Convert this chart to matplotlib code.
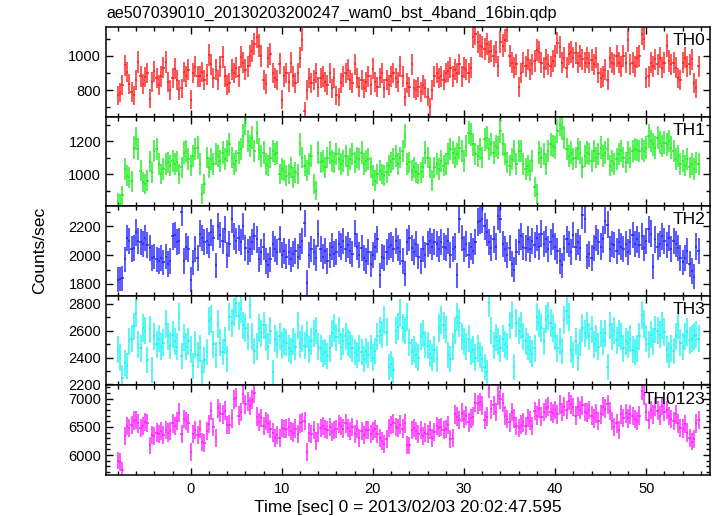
import numpy as np
import matplotlib
matplotlib.use("Agg")
import matplotlib.pyplot as plt
from matplotlib.ticker import MultipleLocator

plt.rcParams['font.family'] = ['Liberation Sans', 'DejaVu Sans']

title = "ae507039010_20130203200247_wam0_bst_4band_16bin.qdp"
xlabel = "Time [sec] 0 = 2013/02/03 20:02:47.595"
ylabel = "Counts/sec"
t_start = -8.0
bin_width = 0.25

th0 = [
    770, 785, 830, 945, 905, 835, 790, 770, 860, 965, 880, 835, 875, 900, 750, 850,
    910, 870, 830, 880, 930, 965, 850, 800, 870, 925, 860, 800, 810, 905, 880, 920,
    745, 900, 935, 880, 880, 905, 860, 890, 1005, 950, 870, 920, 860, 935, 995, 880,
    830, 840, 920, 900, 930, 880, 995, 960, 920, 940, 1000, 1030, 1070, 1110, 1060, 1000,
    860, 835, 990, 1010, 900, 870, 860, 955, 745, 880, 900, 845, 960, 880, 840, 900,
    990, 1095, 680, 800, 870, 840, 860, 900, 820, 870, 880, 850, 830, 900, 810, 870,
    770, 760, 840, 880, 900, 920, 860, 840, 950, 870, 820, 860, 810, 850, 880, 830,
    925, 850, 820, 870, 900, 810, 860, 830, 880, 900, 870, 850, 940, 880, 760, 840,
    820, 950, 810, 800, 820, 790, 830, 810, 760, 700, 800, 880, 900, 870, 880, 860,
    900, 910, 930, 880, 920, 900, 950, 880, 930, 920, 900, 930, 1110, 1130, 1080, 1060,
    1050, 1040, 1070, 1020, 1030, 1000, 1020, 940, 1080, 1060, 1090, 1150, 1000, 960, 930, 950,
    820, 900, 960, 940, 980, 920, 950, 970, 1035, 1020, 960, 930, 980, 950, 940, 970,
    1000, 1075, 1050, 960, 990, 930, 1010, 1020, 990, 1015, 960, 1000, 980, 960, 990, 960,
    975, 950, 990, 900, 870, 880, 920, 860, 990, 960, 950, 1000, 960, 940, 1000, 960,
    1090, 950, 960, 940, 990, 1000, 1130, 1100, 870, 880, 960, 940, 980, 950, 990, 930,
    960, 1060, 970, 950, 960, 930, 870, 860, 960, 990, 940, 950, 980, 840, 810, 940,
]

th1 = [
    830, 820, 870, 1030, 990, 980, 955, 1160, 1215, 1150, 1020, 950, 940, 960, 1075, 1010,
    1140, 1150, 1060, 1000, 1030, 1060, 1070, 1050, 1080, 1060, 1075, 1000, 1040, 1130, 1140, 1090,
    1050, 1110, 1150, 1160, 1060, 880, 940, 1100, 1040, 1090, 1060, 1120, 1110, 1080, 1130, 1090,
    1140, 1180, 1100, 1060, 1080, 1130, 1150, 1230, 1310, 1200, 1170, 1220, 1140, 1250, 1150, 1110,
    1130, 1060, 1050, 1100, 1140, 1120, 1130, 1000, 1030, 1020, 990, 1000, 1040, 980, 1010, 1000,
    1180, 1100, 1050, 1020, 1060, 1110, 940, 900, 1130, 1070, 1080, 1040, 1100, 1130, 1080, 1070,
    1120, 1090, 1060, 1080, 1110, 1050, 1090, 1120, 1070, 1100, 1090, 1130, 1060, 1080, 1090, 1040,
    990, 960, 1000, 1020, 1000, 990, 1010, 1050, 1070, 1090, 1110, 1060, 1100, 1140, 1230, 1060,
    1070, 1020, 1040, 1010, 1000, 1010, 1040, 1130, 1100, 1040, 960, 1040, 1060, 1030, 1080, 1050,
    1060, 1120, 1150, 1130, 1100, 1120, 1160, 1140, 1080, 1170, 1250, 1240, 1180, 1120, 1110, 1150,
    1100, 1210, 1220, 1150, 1180, 1130, 1170, 1160, 1260, 1180, 1120, 1070, 1050, 1090, 1140, 1060,
    1140, 1140, 1060, 1030, 1050, 1020, 1080, 920, 880, 1130, 1100, 1120, 1060, 1140, 1180, 1170,
    1160, 1260, 1300, 1280, 1220, 1150, 1110, 1130, 1090, 1100, 1150, 1130, 1040, 1110, 1130, 1120,
    1080, 1140, 1100, 1120, 1160, 1110, 1130, 1150, 1050, 1080, 1060, 1090, 1120, 1140, 1100, 1070,
    1130, 1100, 1140, 1150, 1145, 1140, 1150, 1140, 1160, 1230, 1200, 1180, 1160, 1220, 1190, 1170,
    1190, 1180, 1200, 1160, 1140, 1090, 1110, 1060, 1080, 1050, 1090, 1040, 1060, 1030, 1070, 1060,
]

th2 = [
    1830, 1835, 1840, 1970, 2120, 2100, 2040, 2050, 2160, 2100, 2090, 2080, 2120, 2070, 2050, 1980,
    1990, 1970, 1960, 1980, 1950, 1990, 1940, 1960, 2130, 2140, 2090, 2100, 2300, 1960, 2060, 2040,
    1830, 1950, 2040, 1980, 2150, 2120, 2090, 2100, 2070, 2160, 2120, 1930, 2200, 2140, 2100, 2180,
    2000, 2080, 2250, 2130, 2100, 2120, 2090, 2200, 2050, 2020, 2040, 2090, 2130, 2110, 1970, 2020,
    2060, 1960, 1930, 1970, 2080, 2040, 2020, 2110, 2000, 2030, 1990, 2020, 1970, 2010, 2030, 1990,
    2060, 2100, 2220, 1810, 2000, 2040, 2020, 1980, 2150, 2040, 1990, 2030, 1960, 2000, 2060, 2010,
    2020, 2080, 2060, 2100, 2040, 2070, 2030, 2010, 2150, 2060, 2000, 2050, 1980, 1960, 2020, 1940,
    2000, 2060, 2110, 1860, 1990, 1980, 2020, 2060, 2070, 2040, 2100, 2050, 2020, 1960, 1870, 2090,
    2120, 2050, 2020, 2080, 1990, 1960, 2040, 2000, 2080, 2100, 2060, 2090, 2080, 2040, 2090, 2060,
    2050, 2100, 2000, 2040, 2060, 1860, 2250, 2120, 2040, 2080, 2000, 2060, 2030, 2090, 2230, 2240,
    2250, 2200, 2160, 2090, 2050, 2110, 2060, 2270, 2250, 2080, 2040, 2000, 2050, 1940, 1900, 2020,
    2090, 2130, 2060, 2050, 2110, 2040, 2100, 2070, 2120, 2060, 2150, 2080, 2110, 2040, 2090, 2130,
    2060, 2030, 1960, 1930, 2050, 2110, 2080, 2020, 2140, 2060, 2090, 2050, 2280, 2250, 1990, 2010,
    1980, 2050, 2120, 2090, 2060, 2110, 2240, 2210, 2040, 2080, 2070, 2030, 2090, 2060, 2040, 2080,
    2020, 2090, 2140, 2080, 2110, 2070, 2130, 2050, 2100, 2180, 2150, 1920, 2110, 2060, 2080, 2130,
    2100, 2070, 2120, 2040, 2100, 2080, 2050, 1980, 1950, 1980, 2030, 1940, 1890, 1850, 2060, 2030,
]

th3 = [
    2460, 2400, 2250, 2360, 2340, 2520, 2540, 2630, 2730, 2500, 2470, 2620, 2600, 2380, 2610, 2310,
    2560, 2500, 2540, 2480, 2510, 2650, 2560, 2490, 2570, 2520, 2480, 2700, 2410, 2550, 2480, 2520,
    2460, 2340, 2500, 2420, 2470, 2290, 2380, 2440, 2670, 2690, 2500, 2420, 2650, 2510, 2440, 2530,
    2390, 2700, 2660, 2740, 2810, 2710, 2760, 2640, 2620, 2560, 2790, 2560, 2450, 2480, 2620, 2580,
    2640, 2550, 2480, 2600, 2290, 2540, 2500, 2560, 2490, 2520, 2510, 2470, 2450, 2520, 2480, 2640,
    2500, 2540, 2490, 2570, 2460, 2520, 2580, 2600, 2480, 2470, 2430, 2440, 2410, 2470, 2580, 2620,
    2550, 2600, 2480, 2520, 2560, 2510, 2500, 2470, 2440, 2420, 2470, 2440, 2390, 2450, 2420, 2470,
    2400, 2450, 2560, 2600, 2570, 2680, 2590, 2330, 2350, 2310, 2600, 2630, 2730, 2620, 2600, 2700,
    2510, 2440, 2460, 2420, 2400, 2560, 2580, 2500, 2490, 2430, 2400, 2460, 2390, 2620, 2680, 2640,
    2610, 2420, 2390, 2480, 2600, 2700, 2660, 2560, 2520, 2480, 2540, 2440, 2460, 2400, 2470, 2420,
    2390, 2330, 2290, 2810, 2600, 2490, 2550, 2520, 2470, 2540, 2500, 2480, 2640, 2720, 2330, 2660,
    2600, 2640, 2560, 2520, 2480, 2460, 2430, 2470, 2700, 2660, 2620, 2520, 2690, 2710, 2660, 2620,
    2560, 2470, 2520, 2450, 2680, 2750, 2700, 2460, 2420, 2520, 2400, 2510, 2620, 2580, 2640, 2560,
    2610, 2500, 2540, 2480, 2580, 2520, 2580, 2330, 2640, 2560, 2600, 2530, 2580, 2560, 2470, 2520,
    2500, 2540, 2460, 2440, 2470, 2560, 2720, 2650, 2540, 2500, 2570, 2520, 2610, 2600, 2570, 2640,
    2590, 2460, 2420, 2470, 2450, 2560, 2640, 2510, 2480, 2560, 2590, 2530, 2540, 2560, 2570, 2540,
]

th0123 = [
    5900, 5880, 5730, 6340, 6520, 6480, 6530, 6610, 6620, 6560, 6480, 6520, 6590, 6570, 6170, 6350,
    6340, 6400, 6380, 6430, 6360, 6450, 6400, 6420, 6560, 6520, 6600, 6750, 6380, 6640, 6600, 6560,
    6050, 6380, 6440, 6350, 6460, 6230, 6220, 6420, 6550, 6780, 6500, 6300, 6830, 6750, 6720, 6790,
    6530, 6540, 6650, 6990, 7020, 6700, 6760, 7080, 6900, 6950, 6870, 6980, 7100, 6680, 6590, 6660,
    6520, 6600, 6560, 6460, 6400, 6300, 6350, 6300, 6480, 6460, 6470, 6500, 6420, 6400, 6470, 6380,
    6560, 6580, 6600, 6050, 6400, 6380, 6440, 6250, 6400, 6480, 6520, 6460, 6440, 6500, 6410, 6450,
    6460, 6550, 6520, 6470, 6560, 6480, 6420, 6500, 6380, 6460, 6300, 6420, 6360, 6440, 6450, 6380,
    6420, 6460, 6380, 6300, 6250, 6200, 6290, 6480, 6530, 6560, 6500, 6480, 6540, 6470, 6560, 6180,
    6170, 6450, 6480, 6420, 6380, 6440, 6330, 6400, 6370, 6440, 6300, 6410, 6520, 6480, 6500, 6440,
    6460, 6530, 6290, 6300, 6720, 6680, 6620, 6750, 6640, 6700, 6580, 6650, 6680, 6930, 6900, 6940,
    6880, 6620, 6680, 7190, 6810, 6880, 6760, 7050, 6990, 6930, 6700, 6640, 6580, 6760, 6650, 6520,
    6480, 6540, 6580, 6520, 6660, 6610, 6520, 6780, 6700, 6820, 6680, 6760, 6830, 6860, 6770, 6740,
    6800, 6720, 6900, 6760, 6860, 6800, 6960, 6900, 6850, 6700, 6860, 6800, 6880, 6760, 6750, 6800,
    6700, 6650, 6740, 6600, 6720, 6860, 6820, 6900, 6780, 6600, 6500, 6560, 6440, 6720, 6660, 6740,
    6650, 6720, 6690, 6640, 6600, 6700, 7140, 7060, 6760, 6620, 6800, 6720, 6860, 6790, 6700, 6870,
    6760, 6800, 6690, 6640, 6600, 6720, 6560, 6480, 6470, 6550, 6400, 6300, 6240, 6280, 6560, 6620,
]

panel_names = ["TH0", "TH1", "TH2", "TH3", "TH0123"]
series = [th0, th1, th2, th3, th0123]
colors = ["#ff1a1a", "#1aee1a", "#2020ff", "#1af4f4", "#ff1aff"]
ylims = [(646, 1168), (805, 1348), (1718, 2340), (2193, 2860), (5647, 7235)]
ymajor = [200, 200, 200, 200, 500]
yminor = [100, 100, 100, 100, 100]

fig = plt.figure(figsize=(7.17, 5.16), dpi=100)
left, right = 106 / 717, 710 / 717
top_px, bot_px = 27, 475
h = (bot_px - top_px) / 5

axes = []
for i in range(5):
    y0 = 1 - (top_px + (i + 1) * h) / 516
    ax = fig.add_axes([left, y0, right - left, h / 516])
    axes.append(ax)
    vals = np.array(series[i], dtype=float)
    t = t_start + bin_width * np.arange(len(vals))
    err = np.sqrt(vals * bin_width) / bin_width
    ax.errorbar(t, vals, xerr=bin_width / 2, yerr=err, fmt='none',
                ecolor=colors[i], elinewidth=1.15, alpha=0.9, capsize=0)
    ax.set_xlim(-9.3, 57.0)
    ax.set_ylim(*ylims[i])
    ax.xaxis.set_major_locator(MultipleLocator(10))
    ax.xaxis.set_minor_locator(MultipleLocator(2))
    ax.yaxis.set_major_locator(MultipleLocator(ymajor[i]))
    ax.yaxis.set_minor_locator(MultipleLocator(yminor[i]))
    ax.tick_params(which='both', direction='in', top=True, right=True,
                   labelsize=10.5, width=1.0)
    ax.tick_params(which='major', length=5)
    ax.tick_params(which='minor', length=3)
    for s in ax.spines.values():
        s.set_linewidth(1.1)
    ax.text(0.992, 0.93, panel_names[i], transform=ax.transAxes,
            ha='right', va='top', fontsize=12.5)
    if i < 4:
        ax.tick_params(labelbottom=False)

axes[-1].tick_params(axis='x', pad=5)
axes[-1].set_xlabel(xlabel, fontsize=12.5, labelpad=3)
fig.text(left + 0.001, 1 - 13 / 516, title, ha='left', va='center', fontsize=11.6)
fig.text(40 / 717, 1 - 250 / 516, ylabel, rotation=90, ha='center', va='center', fontsize=12.5)

fig.savefig("out.png", dpi=100)
